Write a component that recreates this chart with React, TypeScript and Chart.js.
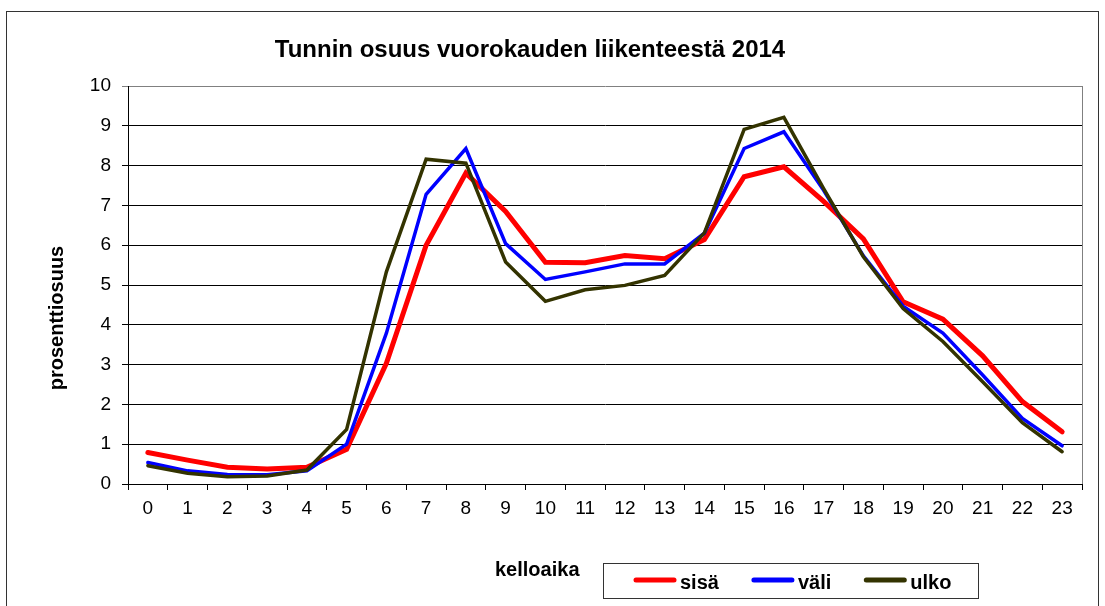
import React, { useEffect, useRef } from "react";
import { Chart, registerables } from "chart.js";

Chart.register(...registerables);

const chartTitle = "Tunnin osuus vuorokauden liikenteestä 2014";
const xTitle = "kelloaika";
const yTitle = "prosenttiosuus";

const hours = ["0", "1", "2", "3", "4", "5", "6", "7", "8", "9", "10", "11", "12", "13", "14", "15", "16", "17", "18", "19", "20", "21", "22", "23"];

const seriesNames = ["sisä", "väli", "ulko"];
const seriesColors = ["#FF0000", "#0000FF", "#333300"];
const seriesWidths = [5, 3.5, 3.5];

const sisa = [0.79, 0.6, 0.42, 0.38, 0.42, 0.87, 3.03, 6.0, 7.81, 6.85, 5.57, 5.56, 5.74, 5.66, 6.14, 7.72, 7.97, 7.1, 6.16, 4.58, 4.14, 3.22, 2.07, 1.31];
const vali = [0.54, 0.33, 0.24, 0.23, 0.33, 1.0, 3.79, 7.28, 8.43, 6.04, 5.14, 5.33, 5.53, 5.53, 6.3, 8.43, 8.85, 7.38, 5.73, 4.47, 3.79, 2.74, 1.65, 0.96];
const ulko = [0.46, 0.27, 0.18, 0.2, 0.35, 1.37, 5.33, 8.16, 8.06, 5.58, 4.59, 4.88, 4.99, 5.24, 6.31, 8.91, 9.21, 7.42, 5.71, 4.41, 3.58, 2.57, 1.54, 0.81];

const seriesValues = [sisa, vali, ulko];

const yMin = 0;
const yMax = 10;
const yStep = 1;

const FONT = "'Liberation Sans', Arial, sans-serif";

const W = 1105;
const H = 606;

const decorPlugin = {
  id: "decor",
  beforeDraw(chart: any) {
    const ctx = chart.ctx;
    ctx.save();
    ctx.fillStyle = "#ffffff";
    ctx.fillRect(0, 0, chart.width, chart.height);
    ctx.strokeStyle = "#333333";
    ctx.lineWidth = 1;
    ctx.strokeRect(6.5, 11.5, 1092, 700);
    ctx.restore();
  },
  afterDraw(chart: any) {
    const ctx = chart.ctx;
    const area = chart.chartArea;
    ctx.save();
    // plot right border
    ctx.strokeStyle = "#808080";
    ctx.lineWidth = 1;
    ctx.beginPath();
    ctx.moveTo(Math.round(area.right) + 0.5, area.top);
    ctx.lineTo(Math.round(area.right) + 0.5, area.bottom);
    ctx.stroke();

    // title
    ctx.fillStyle = "#000";
    ctx.textAlign = "center";
    ctx.textBaseline = "alphabetic";
    ctx.font = `bold 24px ${FONT}`;
    ctx.fillText(chartTitle, 530, 57);

    // y title
    ctx.save();
    ctx.translate(63, 318);
    ctx.rotate(-Math.PI / 2);
    ctx.font = `bold 20px ${FONT}`;
    ctx.textAlign = "center";
    ctx.textBaseline = "alphabetic";
    ctx.fillText(yTitle, 0, 0);
    ctx.restore();

    // x title
    ctx.font = `bold 20px ${FONT}`;
    ctx.textAlign = "left";
    ctx.textBaseline = "alphabetic";
    ctx.fillText(xTitle, 495, 576);

    // legend box
    ctx.strokeStyle = "#333333";
    ctx.lineWidth = 1;
    ctx.strokeRect(603.5, 563.5, 375, 35);
    ctx.font = `bold 20px ${FONT}`;
    ctx.textBaseline = "alphabetic";
    let x = 634;
    const ly = 580;
    chart.data.datasets.forEach((ds: any) => {
      ctx.strokeStyle = ds.borderColor;
      ctx.lineWidth = 5;
      ctx.lineCap = "round";
      ctx.beginPath();
      ctx.moveTo(x + 2, ly);
      ctx.lineTo(x + 40, ly);
      ctx.stroke();
      ctx.fillStyle = "#000";
      ctx.fillText(ds.label, x + 46, 589);
      x += 46 + ctx.measureText(ds.label).width + 33;
    });
    ctx.restore();
  },
};

export default function App() {
  const ref = useRef<HTMLCanvasElement | null>(null);

  useEffect(() => {
    if (!ref.current) return;
    const chart = new Chart(ref.current, {
      type: "line",
      data: {
        labels: hours,
        datasets: seriesNames.map((name, i) => ({
          label: name,
          data: seriesValues[i],
          borderColor: seriesColors[i],
          backgroundColor: seriesColors[i],
          borderWidth: seriesWidths[i],
          pointRadius: 0,
          pointHoverRadius: 0,
          tension: 0,
          fill: false,
          borderCapStyle: "round" as const,
          borderJoinStyle: "miter" as const,
          order: seriesNames.length - 1 - i,
        })),
      },
      options: {
        responsive: false,
        animation: false,
        devicePixelRatio: 1,
        layout: { padding: { top: 86, right: 23, left: 0, bottom: 0 } },
        plugins: {
          legend: { display: false },
          title: { display: false },
          tooltip: { enabled: false },
        },
        scales: {
          x: {
            type: "category",
            offset: true,
            afterFit: (s: any) => {
              s.height = H - 484;
            },
            grid: {
              offset: true,
              drawOnChartArea: false,
              drawTicks: true,
              tickLength: 6,
              color: "#000",
            },
            border: { display: true, color: "#000", width: 1 },
            ticks: {
              color: "#000",
              font: { family: FONT, size: 19 },
              padding: 7,
              maxRotation: 0,
              autoSkip: false,
            },
          },
          y: {
            min: yMin,
            max: yMax,
            afterFit: (s: any) => {
              s.width = 128;
            },
            grid: {
              color: (c: any) => (c.tick && c.tick.value === yMax ? "#808080" : "#000"),
              tickLength: 6,
              drawTicks: true,
            },
            border: { display: true, color: "#000", width: 1 },
            ticks: {
              stepSize: yStep,
              color: "#000",
              font: { family: FONT, size: 19 },
              padding: 11,
            },
          },
        },
      },
      plugins: [decorPlugin],
    });
    return () => chart.destroy();
  }, []);

  return (
    <div style={{ position: "fixed", left: 0, top: 0, width: W, height: H, background: "#fff" }}>
      <canvas ref={ref} width={W} height={H} style={{ display: "block", width: W, height: H }} />
    </div>
  );
}
